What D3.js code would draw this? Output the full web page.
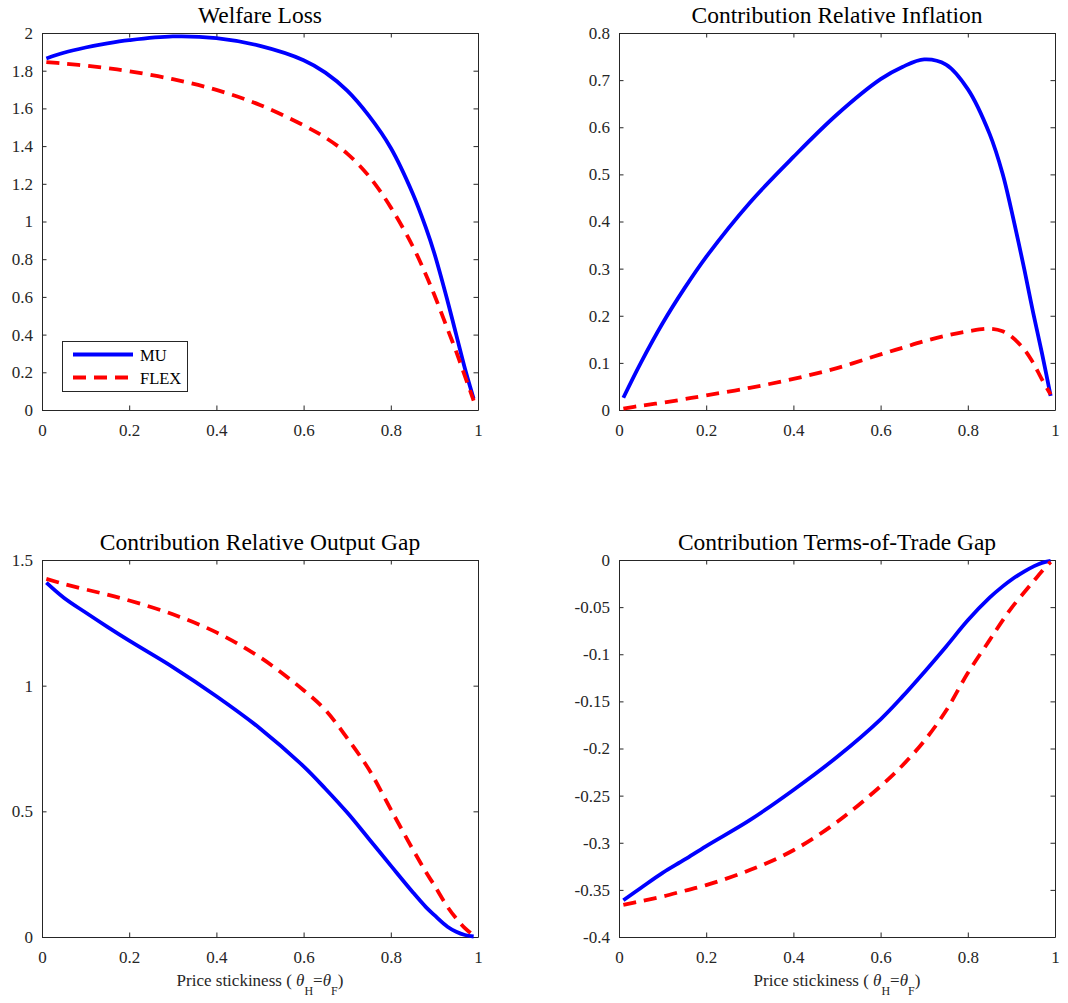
<!DOCTYPE html>
<html>
<head>
<meta charset="utf-8">
<script src="https://cdn.jsdelivr.net/npm/d3@7"></script>
<style>
  body { margin: 0; background: #fff; }
  svg { display: block; }
  svg text { font-family: "Liberation Serif", "Times New Roman", serif; }
</style>
</head>
<body>
<svg id="chart" width="1068" height="1003"></svg>
<script>
var theta = [0.01, 0.05, 0.1, 0.15, 0.2, 0.3, 0.4, 0.5, 0.6, 0.65, 0.7, 0.75, 0.8, 0.85, 0.88, 0.9, 0.93, 0.95, 0.97, 0.99];

var muWelfare   = [1.865, 1.895, 1.923, 1.945, 1.962, 1.982, 1.973, 1.932, 1.856, 1.79, 1.694, 1.56, 1.39, 1.15, 0.97, 0.83, 0.58, 0.40, 0.22, 0.06];
var flexWelfare = [1.846, 1.838, 1.827, 1.813, 1.797, 1.755, 1.698, 1.618, 1.51, 1.445, 1.36, 1.24, 1.075, 0.87, 0.72, 0.61, 0.43, 0.31, 0.18, 0.05];

var muInfl   = [0.026, 0.10, 0.184, 0.258, 0.325, 0.44, 0.537, 0.627, 0.702, 0.728, 0.744, 0.733, 0.681, 0.586, 0.501, 0.424, 0.297, 0.206, 0.121, 0.030];
var flexInfl = [0.003, 0.009, 0.0155, 0.023, 0.031, 0.047, 0.066, 0.089, 0.118, 0.132, 0.146, 0.158, 0.167, 0.1725, 0.167, 0.156, 0.128, 0.10, 0.065, 0.033];

var muGap   = [1.41, 1.35, 1.291, 1.234, 1.179, 1.074, 0.958, 0.830, 0.679, 0.59, 0.495, 0.39, 0.284, 0.179, 0.12, 0.087, 0.041, 0.021, 0.008, 0.002];
var flexGap = [1.425, 1.405, 1.383, 1.362, 1.339, 1.284, 1.212, 1.113, 0.982, 0.903, 0.791, 0.666, 0.508, 0.350, 0.26, 0.205, 0.12, 0.074, 0.035, 0.006];

var muTot   = [-0.361, -0.348, -0.332, -0.318, -0.3035, -0.276, -0.244, -0.209, -0.169, -0.145, -0.119, -0.092, -0.064, -0.04, -0.028, -0.021, -0.012, -0.007, -0.003, -0.001];
var flexTot = [-0.366, -0.362, -0.357, -0.351, -0.345, -0.329, -0.308, -0.278, -0.24, -0.218, -0.192, -0.16, -0.12, -0.085, -0.064, -0.051, -0.034, -0.023, -0.012, -0.002];

// tick labels
var xTicks = [0, 0.2, 0.4, 0.6, 0.8, 1];
var yTicksWelfare = [0, 0.2, 0.4, 0.6, 0.8, 1, 1.2, 1.4, 1.6, 1.8, 2];
var yTicksInfl = [0, 0.1, 0.2, 0.3, 0.4, 0.5, 0.6, 0.7, 0.8];
var yTicksGap = [0, 0.5, 1, 1.5];
var yTicksTot = [-0.4, -0.35, -0.3, -0.25, -0.2, -0.15, -0.1, -0.05, 0];

var titles = ["Welfare Loss", "Contribution Relative Inflation", "Contribution Relative Output Gap", "Contribution Terms-of-Trade Gap"];
var seriesNames = ["MU", "FLEX"];

var svg = d3.select("#chart");
var W = 436, H = 377; // plot box size
var ink = "#262626";

var panels = [
  {title: titles[0], mu: muWelfare, flex: flexWelfare, yTicks: yTicksWelfare, left: 42, top: 33, legend: true},
  {title: titles[1], mu: muInfl, flex: flexInfl, yTicks: yTicksInfl, left: 619, top: 33},
  {title: titles[2], mu: muGap, flex: flexGap, yTicks: yTicksGap, left: 42, top: 560, xlabel: true},
  {title: titles[3], mu: muTot, flex: flexTot, yTicks: yTicksTot, left: 619, top: 560, xlabel: true}
];

var fmt = function(d){ return String(+d.toFixed(2)); }; // matlab style labels, plain hyphen

panels.forEach(function(p){
  var g = svg.append("g").attr("transform", "translate(" + p.left + "," + p.top + ")");

  var x = d3.scaleLinear().domain([0, 1]).range([0, W]);
  var y = d3.scaleLinear().domain(d3.extent(p.yTicks)).range([H, 0]);

  // box with inward ticks on all four sides
  var axB = g.append("g").attr("transform", "translate(0," + H + ")")
    .call(d3.axisBottom(x).tickValues(xTicks).tickSizeInner(-4.5).tickSizeOuter(0).tickPadding(14).tickFormat(fmt));
  var axT = g.append("g")
    .call(d3.axisTop(x).tickValues(xTicks).tickSizeInner(-4.5).tickSizeOuter(0).tickFormat(""));
  var axL = g.append("g")
    .call(d3.axisLeft(y).tickValues(p.yTicks).tickSizeInner(-4.5).tickSizeOuter(0).tickPadding(9).tickFormat(fmt));
  var axR = g.append("g").attr("transform", "translate(" + W + ",0)")
    .call(d3.axisRight(y).tickValues(p.yTicks).tickSizeInner(-4.5).tickSizeOuter(0).tickFormat(""));

  [axB, axT, axL, axR].forEach(function(a){
    a.attr("font-family", "Liberation Serif").attr("font-size", 17);
    a.selectAll("path, line").attr("stroke", ink).attr("stroke-width", 1);
    a.selectAll("text").attr("fill", ink);
  });

  var line = d3.line()
    .x(function(d, i){ return x(theta[i]); })
    .y(function(d){ return y(d); })
    .curve(d3.curveCatmullRom.alpha(0.5));

  g.append("path").datum(p.mu)
    .attr("d", line).attr("fill", "none")
    .attr("stroke", "#0000ff").attr("stroke-width", 3.8);

  g.append("path").datum(p.flex)
    .attr("d", line).attr("fill", "none")
    .attr("stroke", "#ff0000").attr("stroke-width", 3.8)
    .attr("stroke-dasharray", "13,8");

  // title
  g.append("text")
    .attr("x", W / 2).attr("y", -10)
    .attr("text-anchor", "middle")
    .attr("font-size", 23.5).attr("fill", "#000")
    .text(p.title);

  if (p.xlabel) { // Price stickiness (theta_H = theta_F)
    var t = g.append("text")
      .attr("x", W / 2).attr("y", H + 49)
      .attr("text-anchor", "middle")
      .attr("font-size", 17).attr("fill", ink);
    t.append("tspan").text("Price stickiness ( ");
    t.append("tspan").attr("font-style", "italic").text("θ");
    t.append("tspan").attr("dy", 9).attr("font-size", 12).text("H");
    t.append("tspan").attr("dy", -9).text("=");
    t.append("tspan").attr("font-style", "italic").text("θ");
    t.append("tspan").attr("dy", 9).attr("font-size", 12).text("F");
    t.append("tspan").attr("dy", -9).text(")");
  }

  if (p.legend) {
    var lg = g.append("g").attr("transform", "translate(20,308)");
    lg.append("rect")
      .attr("x", 0.5).attr("y", 0.5).attr("width", 125).attr("height", 50)
      .attr("fill", "#fff").attr("stroke", ink).attr("stroke-width", 1);
    seriesNames.forEach(function(name, i){
      var yy = 13.5 + i * 23;
      lg.append("line")
        .attr("x1", 11).attr("x2", 71).attr("y1", yy).attr("y2", yy)
        .attr("stroke", i == 0 ? "#0000ff" : "#ff0000")
        .attr("stroke-width", 3.8)
        .attr("stroke-dasharray", i == 0 ? null : "13,8");
      lg.append("text")
        .attr("x", 78).attr("y", yy + 6)
        .attr("font-size", 16.5).attr("fill", "#000")
        .text(name);
    });
  }
});
</script>
</body>
</html>
